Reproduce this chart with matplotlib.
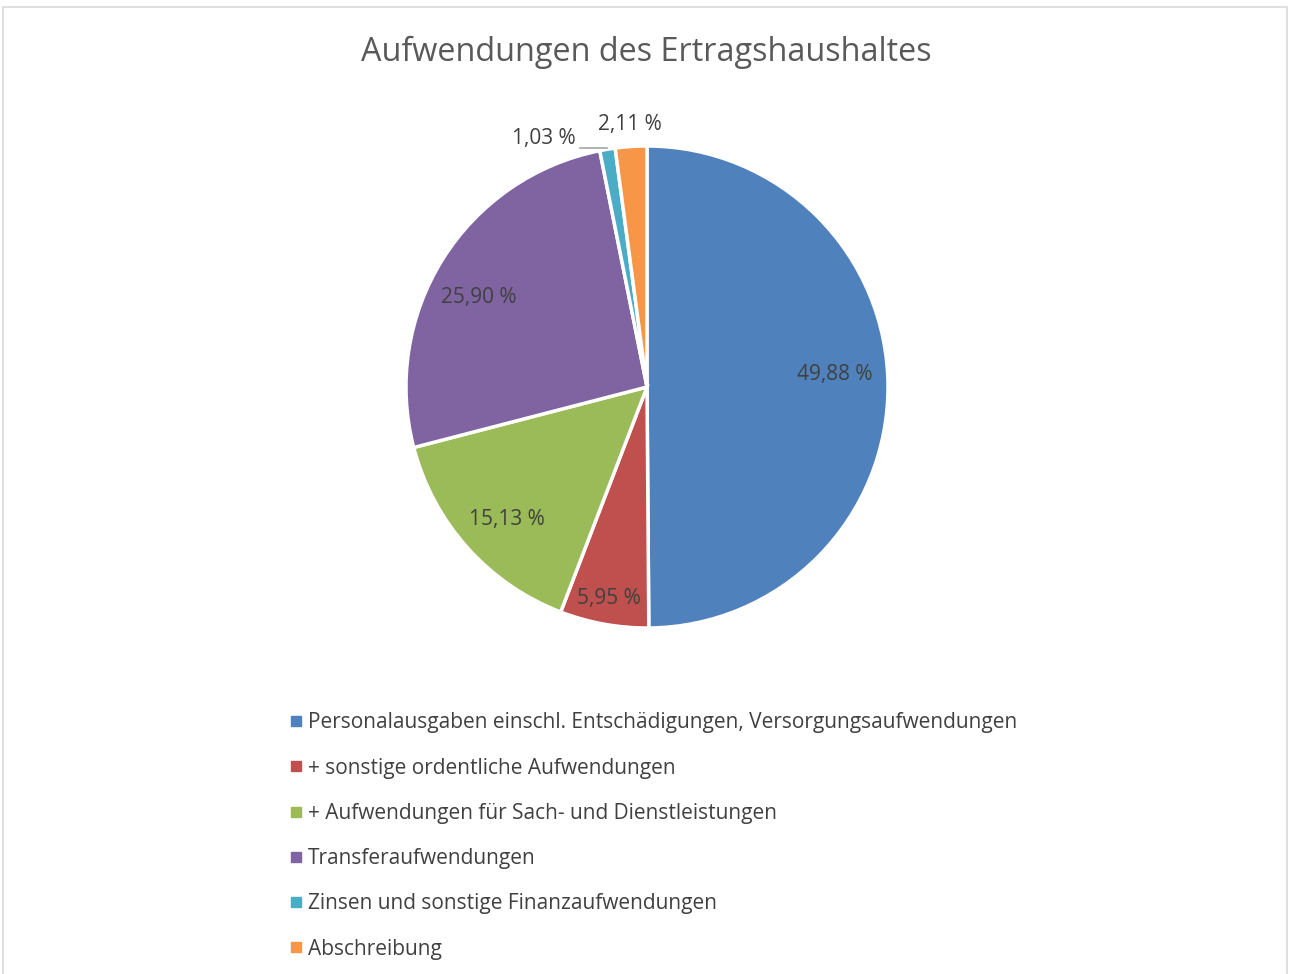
import numpy as np
import matplotlib.pyplot as plt
from matplotlib.lines import Line2D

plt.rcParams['font.family'] = ['Open Sans', 'DejaVu Sans']

# data
categories = [
    "Personalausgaben einschl. Entschädigungen, Versorgungsaufwendungen",
    "+ sonstige ordentliche Aufwendungen",
    "+ Aufwendungen für Sach- und Dienstleistungen",
    "Transferaufwendungen",
    "Zinsen und sonstige Finanzaufwendungen",
    "Abschreibung",
]
shares = [49.88, 5.95, 15.13, 25.90, 1.03, 2.11]
labels = ["49,88 %", "5,95 %", "15,13 %", "25,90 %", "1,03 %", "2,11 %"]
colors = ["#4F81BD", "#C0504D", "#9BBB59", "#8064A2", "#4BACC6", "#F79646"]

fig = plt.figure(figsize=(12.92, 9.74), dpi=100)

# light border around the chart area
fig.patches.append(plt.Rectangle((3 / 1292, -0.01), 1284 / 1292, 1.0028,
                                 transform=fig.transFigure, fill=False,
                                 edgecolor="#D9D9D9", linewidth=1.2))

ax = fig.add_axes([406 / 1292, 346 / 974, 482 / 1292, 482 / 974])
wedges, _ = ax.pie(shares, colors=colors, startangle=90, counterclock=False,
                   wedgeprops=dict(edgecolor="white", linewidth=2.5))
ax.set_xlim(-1, 1)
ax.set_ylim(-1, 1)
ax.set_aspect("equal")
ax.axis("off")

# data labels (distance from centre as fraction of radius, angle shift in deg)
label_r = [0.78, 0.89, 0.80, 0.79, None, 1.09]
label_shift = [3.5, 0, 1.5, 4, 0, 0]
for w, lab, r, s in zip(wedges, labels, label_r, label_shift):
    if r is None:
        # small slice: label left of it with a leader line
        ax.plot([-0.278, -0.166], [0.99, 0.99], color="#A6A6A6", lw=1.2,
                clip_on=False)
        ax.text(-0.43, 1.03, lab, ha="center", va="center", fontsize=15,
                color="#404040")
        continue
    ang = np.deg2rad((w.theta1 + w.theta2) / 2 + s)
    ax.text(r * np.cos(ang), r * np.sin(ang), lab, ha="center", va="center",
            fontsize=15, color="#404040")

fig.text(0.5, 1 - 52 / 974, "Aufwendungen des Ertragshaushaltes", ha="center",
         va="center", fontsize=23.3, color="#595959")

handles = [Line2D([], [], marker="s", linestyle="none", markersize=7,
                  markerfacecolor=c, markeredgecolor=c) for c in colors]
fig.legend(handles, categories, loc="upper left",
           bbox_to_anchor=(281 / 1292, 1 - 704 / 974), frameon=False,
           fontsize=15, labelcolor="#404040", handlelength=0.6,
           handletextpad=0.3, labelspacing=1.165, borderaxespad=0)

fig.savefig("out.png", dpi=100)
